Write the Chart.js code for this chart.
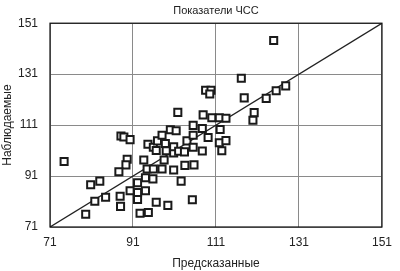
<!DOCTYPE html>
<html>
<head>
<meta charset="utf-8">
<script src="https://cdn.jsdelivr.net/npm/chart.js@4"></script>
<style>
  html, body { margin: 0; padding: 0; background: #fff; }
  #wrap { width: 400px; height: 271px; }
</style>
</head>
<body>
<div id="wrap"><canvas id="chart"></canvas></div>
<script>
'use strict';

// ─── Data ────────────────────────────────────────────────────────────────────

const TITLE   = 'Показатели ЧСС';
const X_TITLE = 'Предсказанные';
const Y_TITLE = 'Наблюдаемые';
const TICKS   = [71, 91, 111, 131, 151];

const PREDICTED = [
  74.4, 88.1, 88.8, 90.3, 89.6, 89.3, 87.6, 80.8, 83.0, 81.8,
  84.4, 87.9, 88.0, 79.6, 90.3, 92.1, 94.0, 92.1, 92.1, 94.0,
  95.8, 92.7, 94.7, 96.6, 99.4, 105.3, 102.6, 93.6, 98.5, 94.4,
  95.9, 98.0, 100.8, 103.5, 105.7, 94.6, 95.9, 96.6, 96.9, 98.0,
  98.8, 99.0, 100.8, 100.8, 102.0, 103.4, 104.0, 105.5, 105.5, 107.7,
  109.1, 100.0, 101.4, 105.5, 107.7, 101.8, 107.9, 110.0, 111.8, 113.4,
  108.5, 109.8, 109.5, 124.9, 117.1, 117.8, 123.1, 125.5, 127.8, 120.2,
  119.9, 112.0, 111.8, 113.4, 112.4,
];
const OBSERVED = [
  96.7, 106.7, 106.3, 105.3, 97.6, 95.4, 92.7, 87.6, 89.0, 81.1,
  82.7, 83.1, 79.1, 76.0, 85.2, 84.5, 85.2, 81.8, 88.4, 90.3,
  89.9, 76.4, 76.7, 80.7, 79.5, 81.7, 89.0, 97.3, 97.3, 93.8,
  93.8, 93.8, 93.4, 95.2, 95.4, 103.5, 102.3, 101.0, 104.8, 107.0,
  103.8, 100.9, 100.1, 102.5, 100.7, 100.5, 104.8, 107.0, 102.3, 100.8,
  106.1, 109.2, 108.8, 110.9, 109.7, 116.0, 115.0, 113.9, 113.9, 113.7,
  124.7, 124.7, 123.2, 144.2, 129.4, 121.7, 121.5, 124.5, 126.4, 115.9,
  112.9, 109.3, 104.1, 104.9, 100.9,
];

// line of identity (predicted = observed)
const IDENTITY = [71, 151];

// ─── Helpers ─────────────────────────────────────────────────────────────────

const FONT = "'Liberation Sans', Arial, sans-serif";

const setTicks = axis => { axis.ticks = TICKS.map(v => ({ value: v })); };

// black frame round the plot area
const framePlugin = {
  id: 'frame',
  afterDraw(chart) {
    const { ctx, chartArea: a } = chart;
    ctx.save();
    ctx.strokeStyle = '#111';
    ctx.lineWidth = 1.2;
    ctx.strokeRect(a.left, a.top, a.right - a.left, a.bottom - a.top);
    ctx.restore();
  },
};

// ─── Chart ───────────────────────────────────────────────────────────────────

new Chart(document.getElementById('chart'), {
  type: 'scatter',
  data: {
    datasets: [
      {
        type: 'line',
        data: IDENTITY.map(v => ({ x: v, y: v })),
        borderColor: '#222',
        borderWidth: 1.3,
        pointRadius: 0,
        order: 2,
      },
      {
        data: PREDICTED.map((x, i) => ({ x, y: OBSERVED[i] })),
        pointStyle: 'rect',
        pointRadius: 5,
        borderColor: '#1a1a1a',
        backgroundColor: '#fff',
        borderWidth: 2,
        order: 1,
      },
    ],
  },
  options: {
    responsive: true,
    maintainAspectRatio: false,
    animation: false,
    layout: { padding: { left: 0, right: 18, top: 0, bottom: 0 } },
    plugins: {
      legend: { display: false },
      tooltip: { enabled: false },
      title: {
        display: true,
        text: TITLE,
        fullSize: false,
        color: '#222',
        font: { family: FONT, size: 11, weight: 'normal', lineHeight: 1.2 },
        padding: { top: 4, bottom: 6 },
      },
    },
    scales: {
      x: {
        type: 'linear',
        min: 71,
        max: 151,
        afterBuildTicks: setTicks,
        afterFit: s => { s.height = 44; },
        grid: { color: '#8a8a8a', lineWidth: 1, drawTicks: false },
        border: { display: false },
        ticks: { color: '#222', padding: 8, font: { family: FONT, size: 12 } },
        title: {
          display: true,
          text: X_TITLE,
          color: '#222',
          padding: { top: 0, bottom: 0 },
          font: { family: FONT, size: 12 },
        },
      },
      y: {
        type: 'linear',
        min: 71,
        max: 151,
        afterBuildTicks: setTicks,
        afterFit: s => { s.width = 50; },
        grid: { color: '#8a8a8a', lineWidth: 1, drawTicks: false },
        border: { display: false },
        ticks: { color: '#222', padding: 12, font: { family: FONT, size: 12 } },
        title: {
          display: true,
          text: Y_TITLE,
          color: '#222',
          padding: { top: 0, bottom: 0 },
          font: { family: FONT, size: 12 },
        },
      },
    },
  },
  plugins: [framePlugin],
});
</script>
</body>
</html>
